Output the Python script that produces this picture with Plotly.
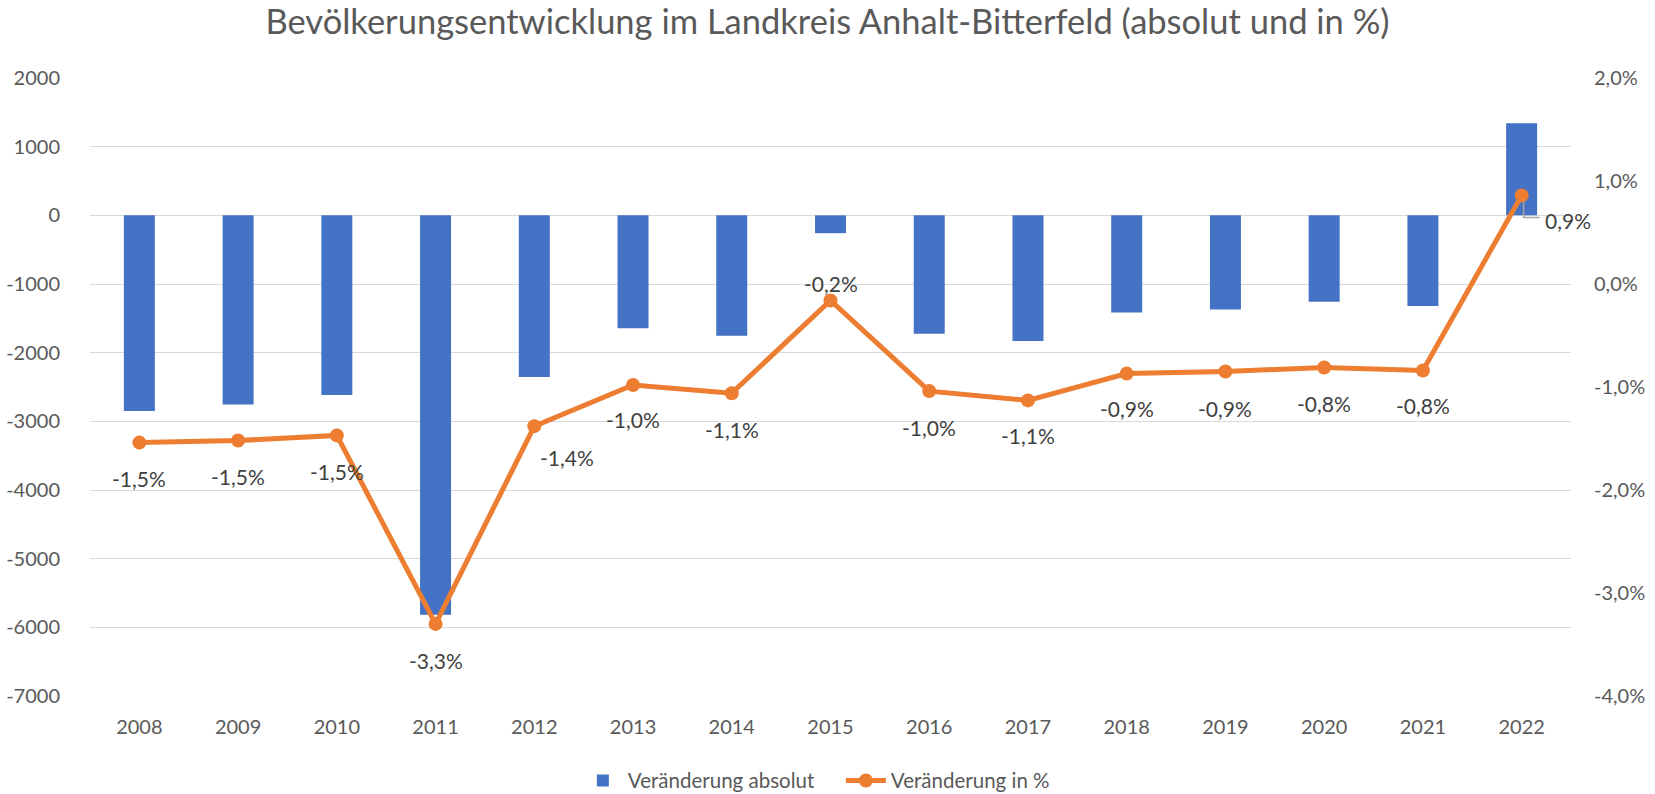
import plotly.graph_objects as go

years = ["2008", "2009", "2010", "2011", "2012", "2013", "2014", "2015",
         "2016", "2017", "2018", "2019", "2020", "2021", "2022"]
change_abs = [-2850, -2755, -2615, -5815, -2355, -1645, -1755, -260,
              -1725, -1830, -1415, -1370, -1260, -1320, 1340]
change_pct = [-0.0154, -0.0152, -0.0147, -0.0330, -0.0138, -0.0098, -0.0106, -0.0016,
              -0.0104, -0.0113, -0.0087, -0.0085, -0.0081, -0.0084, 0.0086]

left_ticks = list(range(-7000, 2001, 1000))
right_ticks = [-0.04, -0.03, -0.02, -0.01, 0.0, 0.01, 0.02]


def pct_text(v):
    return ("%.1f%%" % (v * 100)).replace(".", ",").replace("-0,0", "0,0")


left_text = [str(v) for v in left_ticks]
right_text = [pct_text(v) for v in right_ticks]

# label offsets in pixels (style only)
label_dx = [0, 0, 0, 0, 33, 0, 0, 0, 0, 0, 0, 0, 0, 0, 46]
label_dy = [-36, -36, -36, -37, -31, -35, -36, 17, -36, -35, -35, -37, -36, -35, -25]

FONT = "Lato"
GREY = "#595959"

fig = go.Figure()
fig.add_trace(go.Bar(
    x=years, y=change_abs, name="Veränderung absolut",
    marker=dict(color="#4472C4", line=dict(width=0)),
    yaxis="y",
))
fig.add_trace(go.Scatter(
    x=years, y=change_pct, name="Veränderung in %",
    mode="lines+markers",
    line=dict(color="#ED7D31", width=5),
    marker=dict(color="#ED7D31", size=14),
    yaxis="y2",
))

annotations = []
for i, (v, dx, dy) in enumerate(zip(change_pct, label_dx, label_dy)):
    annotations.append(dict(
        x=i, y=v, xref="x", yref="y2", text=pct_text(v), showarrow=False,
        xshift=dx, yshift=dy, font=dict(family=FONT, size=21, color="#404040"),
    ))

shapes = [dict(
    type="path", xref="x", yref="y2",
    xsizemode="pixel", ysizemode="pixel",
    xanchor=len(years) - 1, yanchor=change_pct[-1],
    path="M 2 -6 L 2 -22 L 18 -22",
    line=dict(color="#A6A6A6", width=1.5),
)]

fig.update_layout(
    width=1655, height=794,
    paper_bgcolor="white", plot_bgcolor="white",
    margin=dict(l=90, r=84, t=78, b=98, autoexpand=False),
    title=dict(text="Bevölkerungsentwicklung im Landkreis Anhalt-Bitterfeld (absolut und in %)",
               x=0.5, xanchor="center", y=0.972, yanchor="middle",
               font=dict(family=FONT, size=34.5, color=GREY)),
    font=dict(family=FONT, size=20, color=GREY),
    separators=",.",
    bargap=0.686,
    showlegend=True,
    legend=dict(orientation="h", x=0.507, xanchor="center", y=-0.137, yanchor="middle",
                font=dict(family=FONT, size=20.5, color=GREY), itemwidth=40,
                entrywidth=208, entrywidthmode="pixels",
                traceorder="normal"),
    xaxis=dict(type="category", range=[-0.5, len(years) - 0.5], autorange=False,
               showgrid=False, showline=False, ticks="",
               tickfont=dict(family=FONT, size=20, color=GREY), ticklabelstandoff=17),
    yaxis=dict(range=[-7000, 2000], autorange=False, tickvals=left_ticks, ticktext=left_text,
               showgrid=True, gridcolor="#D9D9D9", gridwidth=1.3, zeroline=False,
               showline=False,
               tickfont=dict(family=FONT, size=20, color=GREY), ticklabelstandoff=29),
    yaxis2=dict(range=[-0.04, 0.02], autorange=False, tickvals=right_ticks, ticktext=right_text,
                overlaying="y", side="right", showgrid=False, zeroline=False,
                showline=False,
                tickfont=dict(family=FONT, size=20, color=GREY), ticklabelstandoff=22),
    annotations=annotations,
    shapes=shapes,
)

fig.write_html("out.html", config={"displayModeBar": False},
               post_script="document.body.style.margin='0';document.body.style.overflow='hidden';")
